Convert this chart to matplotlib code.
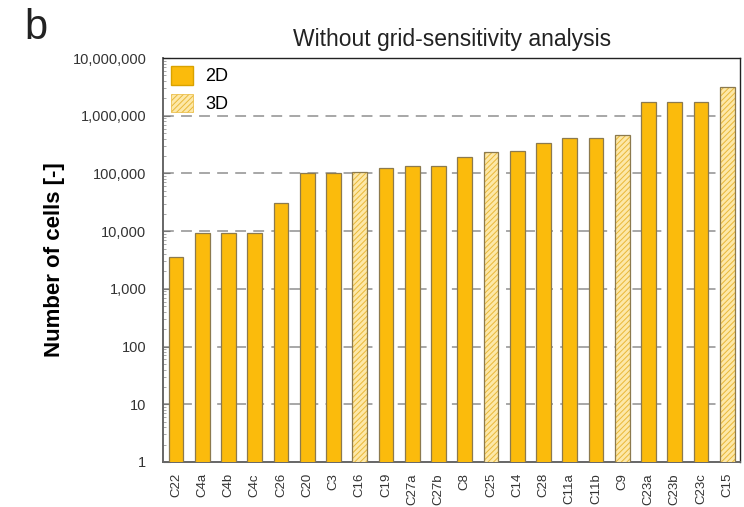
import matplotlib
matplotlib.use("Agg")
import matplotlib.pyplot as plt
from matplotlib.patches import Patch
from matplotlib.ticker import FixedLocator, LogLocator, NullFormatter

plt.rcParams['font.family'] = ['Liberation Sans', 'DejaVu Sans']
plt.rcParams['hatch.linewidth'] = 0.7

cases = ["C22", "C4a", "C4b", "C4c", "C26", "C20", "C3", "C16", "C19", "C27a", "C27b",
         "C8", "C25", "C14", "C28", "C11a", "C11b", "C9", "C23a", "C23b", "C23c", "C15"]
cells = [3500, 9300, 9300, 9300, 31000, 100000, 100000, 105000, 125000, 132000, 132000,
         196000, 232000, 246000, 330000, 410000, 410000, 457000, 1760000, 1760000, 1760000, 3100000]
dims = ["2D", "2D", "2D", "2D", "2D", "2D", "2D", "3D", "2D", "2D", "2D",
        "2D", "3D", "2D", "2D", "2D", "2D", "3D", "2D", "2D", "2D", "3D"]
ytick_vals = [1, 10, 100, 1000, 10000, 100000, 1000000, 10000000]
ytick_labels = ["1", "10", "100", "1,000", "10,000", "100,000", "1,000,000", "10,000,000"]

c2d = '#fbbb0c'
c3d = '#fde8a8'
hatch_c = '#e9b838'
edge = '#8c7a4e'

fig = plt.figure(figsize=(7.44, 5.07), dpi=100)
ax = fig.add_axes([0.219, 0.0888, 0.776, 0.7968])
ax.set_yscale('log')
ax.set_ylim(1, 1e7)
ax.set_xlim(-0.5, len(cases) - 0.5)

for y in ytick_vals[1:-1]:
    ax.axhline(y, color='#a0a0a0', lw=1.3, ls=(0, (6, 4)), zorder=1)

for i, (v, d) in enumerate(zip(cells, dims)):
    if d == "2D":
        ax.bar(i, v, width=0.56, color=c2d, edgecolor=edge, linewidth=0.9, zorder=3)
    else:
        ax.bar(i, v, width=0.56, facecolor=c3d, edgecolor=hatch_c, linewidth=0,
               hatch='//////', zorder=3)
        ax.bar(i, v, width=0.56, facecolor='none', edgecolor=edge, linewidth=0.9, zorder=4)

ax.set_xticks(range(len(cases)))
ax.set_xticklabels(cases, rotation=90, fontsize=9.5, color='#333333')
ax.tick_params(axis='x', length=0, pad=8)
ax.yaxis.set_major_locator(FixedLocator(ytick_vals))
ax.set_yticklabels(ytick_labels, fontsize=10.5, color='#333333')
ax.yaxis.set_minor_locator(LogLocator(base=10, subs=range(2, 10), numticks=20))
ax.yaxis.set_minor_formatter(NullFormatter())
ax.tick_params(axis='y', which='major', direction='in', length=5, color='#777777', pad=12)
ax.tick_params(axis='y', which='minor', direction='in', length=2.5, color='#999999')

for s in ['top', 'right']:
    ax.spines[s].set_color('#222222')
    ax.spines[s].set_linewidth(1.0)
for s in ['left', 'bottom']:
    ax.spines[s].set_color('#666666')
    ax.spines[s].set_linewidth(1.4)

ax.set_ylabel("Number of cells [-]", fontsize=16, fontweight='bold', labelpad=5)
ax.set_title("Without grid-sensitivity analysis", fontsize=16.5, color='#222222', pad=9)
fig.text(0.033, 0.945, "b", fontsize=30, color='#222222', va='center')

handles = [Patch(facecolor=c2d, edgecolor='#d9a200', label='2D'),
           Patch(facecolor=c3d, edgecolor=hatch_c, hatch='//////', label='3D', linewidth=0.5)]
ax.legend(handles=handles, loc='upper left', frameon=False, fontsize=13,
          handlelength=1.2, handleheight=1.2, borderaxespad=0.15, labelspacing=0.45,
          handletextpad=0.7, borderpad=0.3)

fig.savefig("out.png", dpi=100)
